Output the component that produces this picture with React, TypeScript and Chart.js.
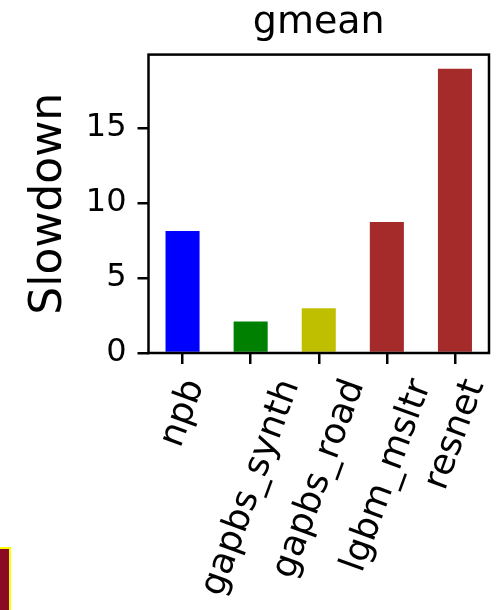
import React, { useEffect, useRef } from "react";
import { Chart, registerables } from "chart.js";

Chart.register(...registerables);

const categories = ["npb", "gapbs_synth", "gapbs_road", "lgbm_msltr", "resnet"];
const slowdown = [8.13, 2.1, 2.99, 8.73, 18.95];
const barColors = ["#0000ff", "#008000", "#bfbf00", "#a52a2a", "#a52a2a"];
const yTicks = [0, 5, 10, 15];
const yMax = 19.9;
const titleText = "gmean";
const yLabel = "Slowdown";

const FONT = "'DejaVu Sans'";
const TICK_SIZE = 32;
const X_LABEL_SIZE = 36;
const X_ROT = 70;

const framePlugin = {
  id: "frame",
  afterDatasetsDraw(chart: any) {
    const { ctx, chartArea } = chart;
    ctx.save();
    ctx.strokeStyle = "#000";
    ctx.lineWidth = 2.5;
    ctx.strokeRect(chartArea.left, chartArea.top, chartArea.right - chartArea.left, chartArea.bottom - chartArea.top);
    ctx.restore();
  },
};

const xLabelPlugin = {
  id: "xLabels",
  afterDraw(chart: any) {
    const { ctx, chartArea, scales } = chart;
    const xs = scales.x;
    const s = X_LABEL_SIZE;
    const ang = (X_ROT * Math.PI) / 180;
    const top = chartArea.bottom + 22;
    ctx.save();
    ctx.font = `${s}px ${FONT}`;
    ctx.fillStyle = "#000";
    categories.forEach((lab, i) => {
      const x = xs.getPixelForTick(i);
      const L = ctx.measureText(lab).width;
      const H = 0.97 * s;
      const h = L * Math.sin(ang) + H * Math.cos(ang);
      ctx.save();
      ctx.translate(x, top + h / 2);
      ctx.rotate(-ang);
      ctx.textAlign = "center";
      ctx.textBaseline = "alphabetic";
      ctx.fillText(lab, 0, 0.276 * s);
      ctx.restore();
    });
    ctx.restore();
  },
};

export default function App() {
  const ref = useRef<HTMLCanvasElement | null>(null);

  useEffect(() => {
    if (!ref.current) return;
    Chart.defaults.font.family = FONT;
    const chart = new Chart(ref.current, {
      type: "bar",
      data: {
        labels: categories,
        datasets: [
          {
            data: slowdown,
            backgroundColor: barColors,
            borderWidth: 0,
            barPercentage: 0.5,
            categoryPercentage: 1.0,
          },
        ],
      },
      options: {
        responsive: false,
        maintainAspectRatio: false,
        devicePixelRatio: 1,
        animation: false,
        layout: { padding: { left: 0, right: 12, top: 0, bottom: 0 } },
        plugins: {
          legend: { display: false },
          tooltip: { enabled: false },
          title: {
            display: true,
            text: titleText,
            fullSize: false,
            color: "#000",
            font: { family: FONT, size: 38, weight: "normal", lineHeight: 1.2 },
            padding: { top: 0, bottom: 9 },
          },
        },
        scales: {
          x: {
            type: "category",
            offset: true,
            grid: {
              display: true,
              drawOnChartArea: false,
              drawTicks: true,
              tickLength: 11,
              tickWidth: 2.5,
              tickColor: "#000",
              lineWidth: 2.5,
              color: "#000",
              offset: false,
            },
            border: { display: false },
            ticks: { display: false },
            afterFit: (scale: any) => {
              scale.height = 257;
            },
          },
          y: {
            type: "linear",
            min: 0,
            max: yMax,
            afterBuildTicks: (scale: any) => {
              scale.ticks = yTicks.map((v) => ({ value: v }));
            },
            grid: {
              display: true,
              drawOnChartArea: false,
              drawTicks: true,
              tickLength: 11,
              tickWidth: 2.5,
              tickColor: "#000",
              lineWidth: 2.5,
              color: "#000",
            },
            border: { display: false },
            ticks: {
              color: "#000",
              padding: 11,
              font: { family: FONT, size: TICK_SIZE },
            },
            title: {
              display: true,
              text: yLabel,
              color: "#000",
              font: { family: FONT, size: 44, lineHeight: 1.2 },
              padding: { top: 23, bottom: 0 },
            },
            afterFit: (scale: any) => {
              scale.width = 148.5;
            },
          },
        },
      },
      plugins: [framePlugin, xLabelPlugin],
    });
    return () => chart.destroy();
  }, []);

  return (
    <div style={{ position: "absolute", left: 0, top: 0, width: 501, height: 610, background: "#fff", overflow: "hidden" }}>
      <canvas ref={ref} width={501} height={610} style={{ display: "block", width: 501, height: 610 }} />
      <div
        style={{
          position: "absolute",
          left: 0,
          top: 547,
          width: 9,
          height: 61,
          background: "#8a0a24",
          borderTop: "2px solid #ffff00",
          borderRight: "2px solid #ffff00",
        }}
      />
    </div>
  );
}
